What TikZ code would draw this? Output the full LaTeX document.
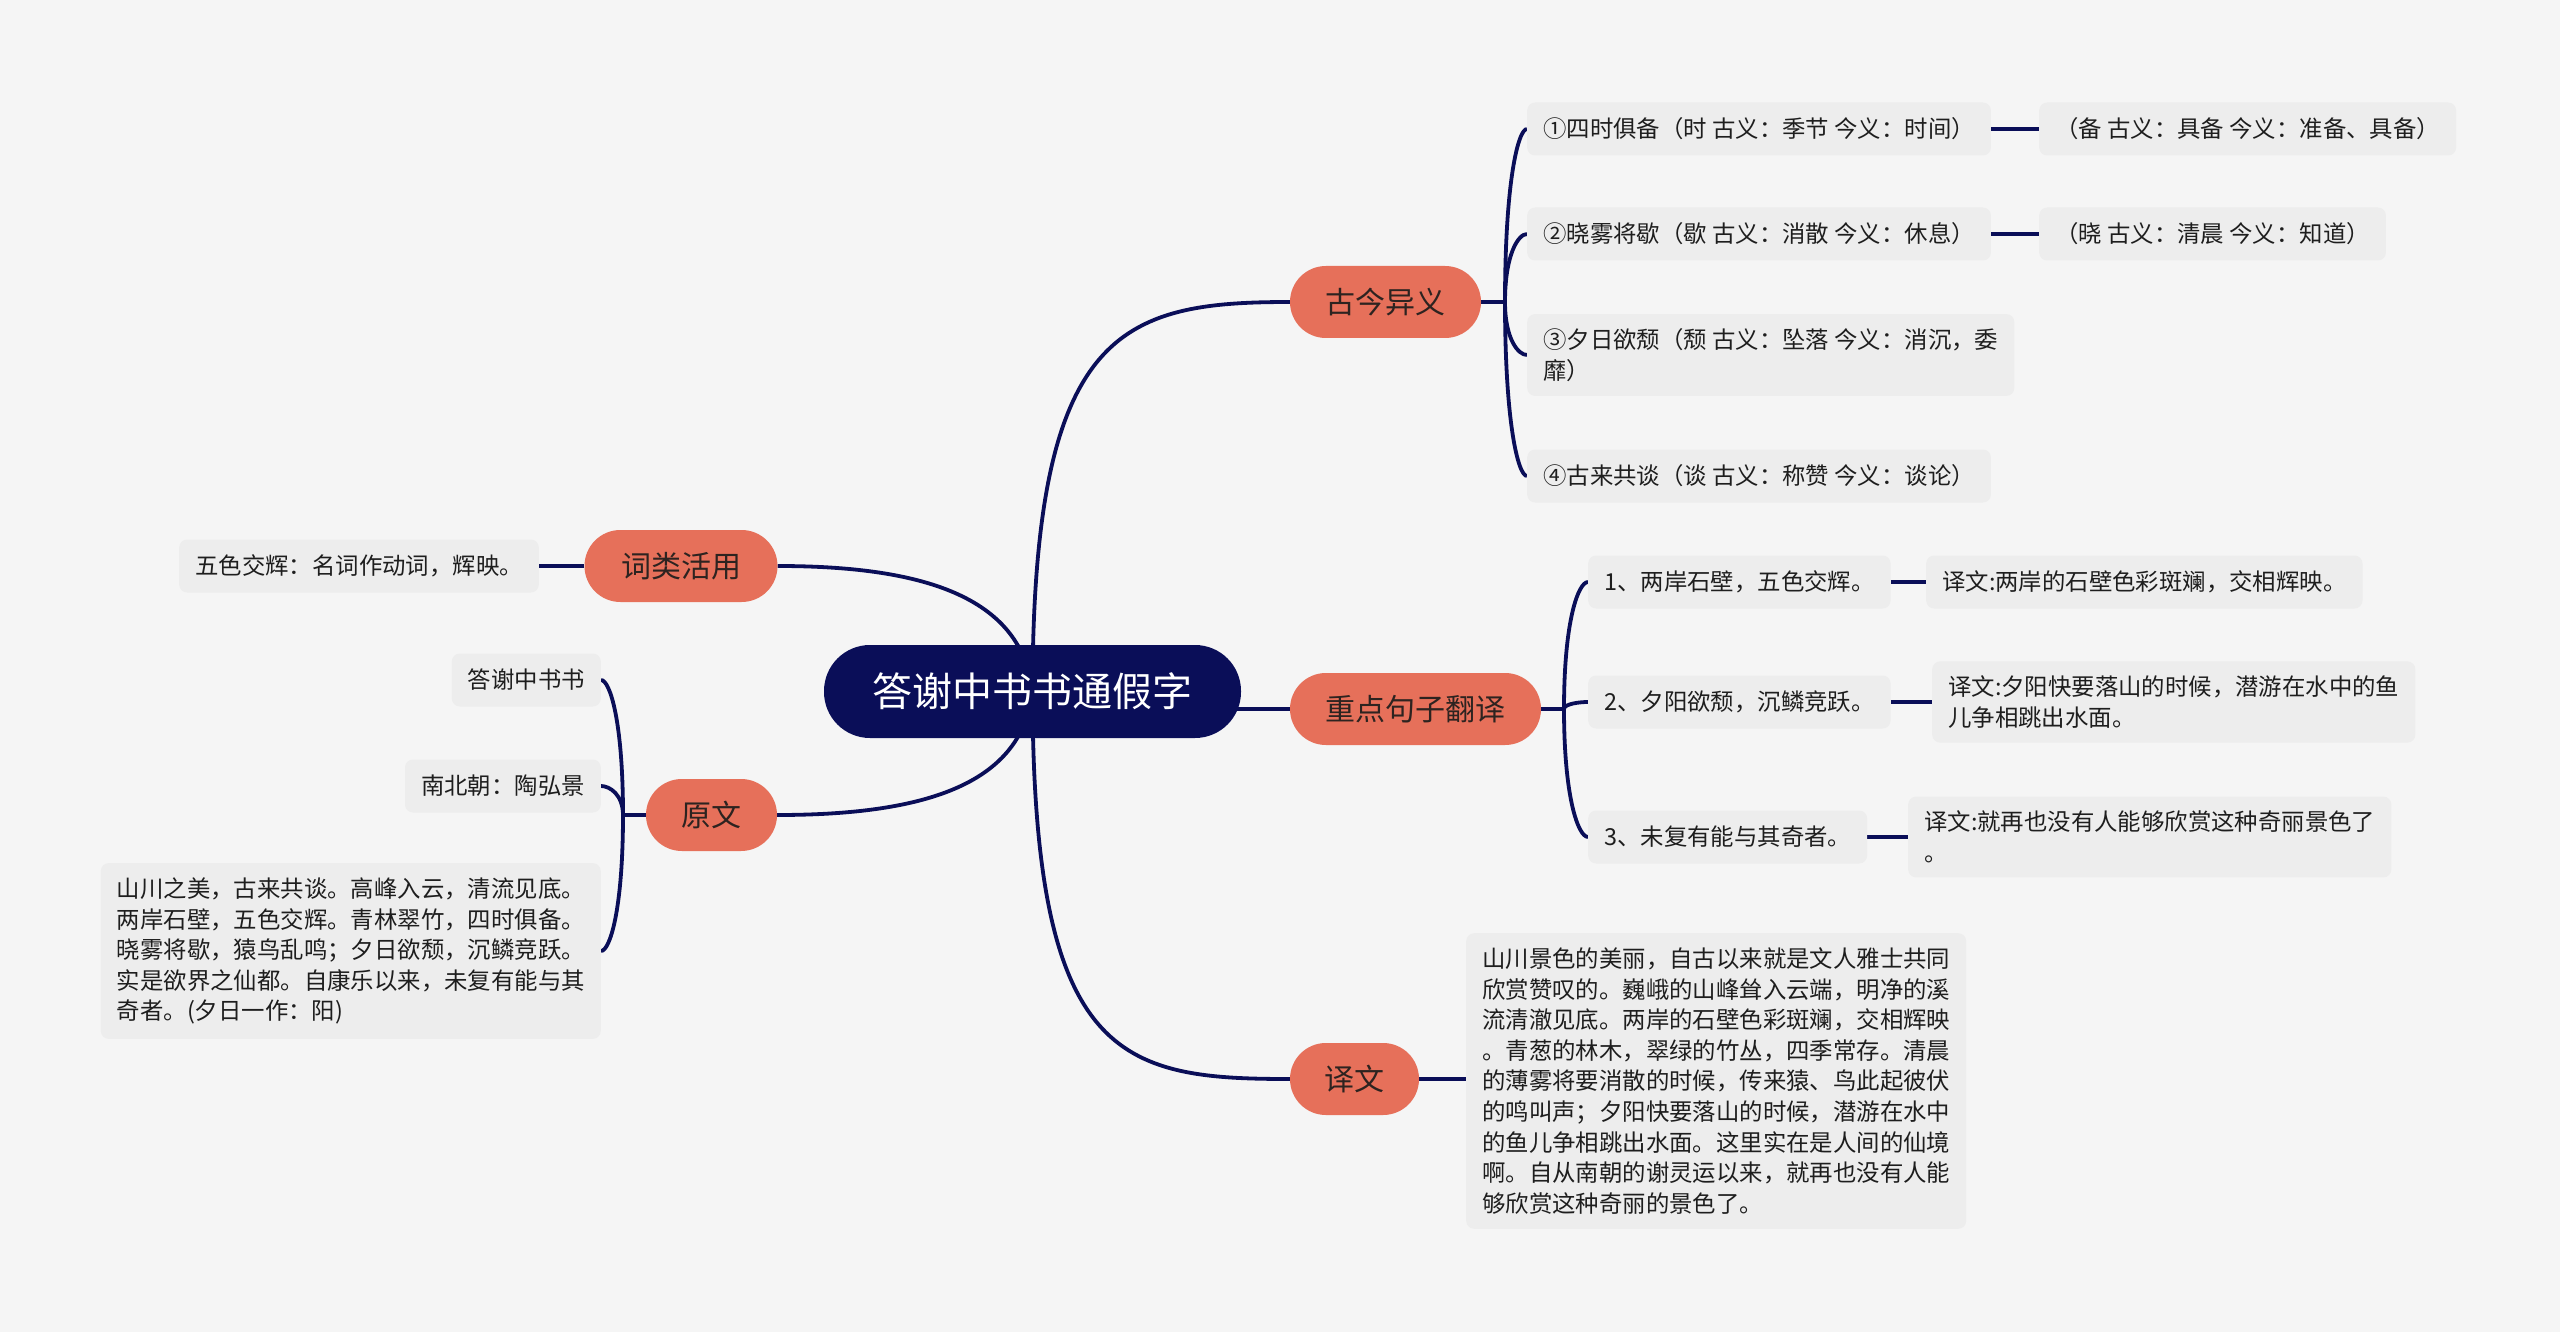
\documentclass[tikz,border=0pt]{standalone}
\usepackage{fontspec}
\setmainfont{Noto Sans CJK SC}
\usetikzlibrary{backgrounds,calc}
\definecolor{bgc}{RGB}{245,245,245}
\definecolor{navy}{RGB}{10,14,88}
\definecolor{salmon}{RGB}{230,112,90}
\definecolor{leafc}{RGB}{237,237,237}
\definecolor{txt}{RGB}{30,30,30}
\definecolor{btxt}{RGB}{45,35,32}
\begin{document}
\begin{tikzpicture}[x=1pt,y=-1pt,
  conn/.style={draw=navy,line width=3.8pt},
  brk/.style={conn,to path={let \p1=(\tikztostart), \p2=(\tikztotarget) in
     .. controls (\x1,{\y2+0.3*(\y1-\y2)}) and ({\x1+0.6*(\x2-\x1)},\y2) .. (\tikztotarget)}},
  leaf/.style={fill=leafc,rounded corners=8pt,inner xsep=16pt,inner ysep=14.5pt,minimum height=53pt,text=txt,font=\fontsize{23.4}{30.6}\selectfont,align=left},
  branch/.style={fill=salmon,rounded corners=35.9pt,minimum height=72pt,text=btxt,font=\fontsize{30}{36}\selectfont,inner sep=0pt},
  root/.style={fill=navy,rounded corners=46pt,minimum height=93pt,minimum width=417pt,text=white,font=\fontsize{40}{48}\selectfont,inner sep=0pt}]
\useasboundingbox (0,0) rectangle (2560,1332);

% root and branches
\node[root] (ctr) at (1032.5,691.5) {答谢中书书通假字};
\node[branch,minimum width=191pt] (gj) at (1385.5,302) {古今异义};
\node[branch,minimum width=251pt] (zd) at (1415.5,709) {重点句子翻译};
\node[branch,minimum width=129pt] (yw) at (1354.5,1079) {译文};
\node[branch,minimum width=193pt] (cl) at (681,566) {词类活用};
\node[branch,minimum width=131pt] (yuan) at (711.5,815) {原文};

% 古今异义 leaves
\node[leaf,anchor=west] (g1) at (1527,129) {①四时俱备（时 古义：季节 今义：时间）};
\node[leaf,anchor=west] (g1a) at (2039,129) {（备 古义：具备 今义：准备、具备）};
\node[leaf,anchor=west] (g2) at (1527,234) {②晓雾将歇（歇 古义：消散 今义：休息）};
\node[leaf,anchor=west] (g2a) at (2039,234) {（晓 古义：清晨 今义：知道）};
\node[leaf,anchor=west] (g3) at (1527,355) {③夕日欲颓（颓 古义：坠落 今义：消沉，委\\靡）};
\node[leaf,anchor=west] (g4) at (1527,476) {④古来共谈（谈 古义：称赞 今义：谈论）};

% 重点句子翻译 leaves
\node[leaf,anchor=west] (z1) at (1588,582) {1、两岸石壁，五色交辉。};
\node[leaf,anchor=west] (z1a) at (1926,582) {译文:两岸的石壁色彩斑斓，交相辉映。};
\node[leaf,anchor=west] (z2) at (1588,702) {2、夕阳欲颓，沉鳞竞跃。};
\node[leaf,anchor=west] (z2a) at (1932,702) {译文:夕阳快要落山的时候，潜游在水中的鱼\\儿争相跳出水面。};
\node[leaf,anchor=west] (z3) at (1588,837) {3、未复有能与其奇者。};
\node[leaf,anchor=west] (z3a) at (1908,837) {译文:就再也没有人能够欣赏这种奇丽景色了\\。};

% 译文 leaf
\node[leaf,anchor=west] (y1) at (1466,1081) {山川景色的美丽，自古以来就是文人雅士共同\\欣赏赞叹的。巍峨的山峰耸入云端，明净的溪\\流清澈见底。两岸的石壁色彩斑斓，交相辉映\\。青葱的林木，翠绿的竹丛，四季常存。清晨\\的薄雾将要消散的时候，传来猿、鸟此起彼伏\\的鸣叫声；夕阳快要落山的时候，潜游在水中\\的鱼儿争相跳出水面。这里实在是人间的仙境\\啊。自从南朝的谢灵运以来，就再也没有人能\\够欣赏这种奇丽的景色了。};

% left leaves
\node[leaf,anchor=east] (c1) at (539,566) {五色交辉：名词作动词，辉映。};
\node[leaf,anchor=east] (o1) at (601,680) {答谢中书书};
\node[leaf,anchor=east] (o2) at (601,786) {南北朝：陶弘景};
\node[leaf,anchor=east] (o3) at (601,951) {山川之美，古来共谈。高峰入云，清流见底。\\两岸石壁，五色交辉。青林翠竹，四时俱备。\\晓雾将歇，猿鸟乱鸣；夕日欲颓，沉鳞竞跃。\\实是欲界之仙都。自康乐以来，未复有能与其\\奇者。(夕日一作：阳)};

\coordinate (gjs) at (1505,302);
\coordinate (zds) at (1564,709);
\coordinate (ys) at (623,815);

\begin{pgfonlayer}{background}
\fill[bgc] (0,0) rectangle (2560,1332);
% main connectors
\draw[conn] (ctr.center) .. controls (1033,330) and (1120,302) .. (gj.west);
\draw[conn] (ctr.center) .. controls (1033,1060) and (1120,1079) .. (yw.west);
\draw[conn] (ctr.center |- zd.west) -- (zd.west);
\draw[conn] (ctr.center) .. controls (1022,600) and (930,566) .. (cl.east);
\draw[conn] (ctr.center) .. controls (1022,782) and (930,815) .. (yuan.east);
% 古今异义 bracket
\draw[conn] (gj.east) -- (gjs);
\draw[brk] (gjs) to (g1.west);
\draw[brk] (gjs) to (g2.west);
\draw[brk] (gjs) to (g3.west);
\draw[brk] (gjs) to (g4.west);
\draw[conn] (g1) -- (g1a);
\draw[conn] (g2) -- (g2a);
% 重点句子翻译 bracket
\draw[conn] (zd.east) -- (zds);
\draw[brk] (zds) to (z1.west);
\draw[brk] (zds) to (z2.west);
\draw[brk] (zds) to (z3.west);
\draw[conn] (z1) -- (z1a);
\draw[conn] (z2) -- (z2a);
\draw[conn] (z3) -- (z3a);
% 译文
\draw[conn] (yw.east) -- (yw.east -| y1.west);
% left side
\draw[conn] (cl.west) -- (c1.east);
\draw[conn] (yuan.west) -- (ys);
\draw[brk] (ys) to (o1.east);
\draw[brk] (ys) to (o2.east);
\draw[brk] (ys) to (o3.east);
\end{pgfonlayer}
\end{tikzpicture}
\end{document}
